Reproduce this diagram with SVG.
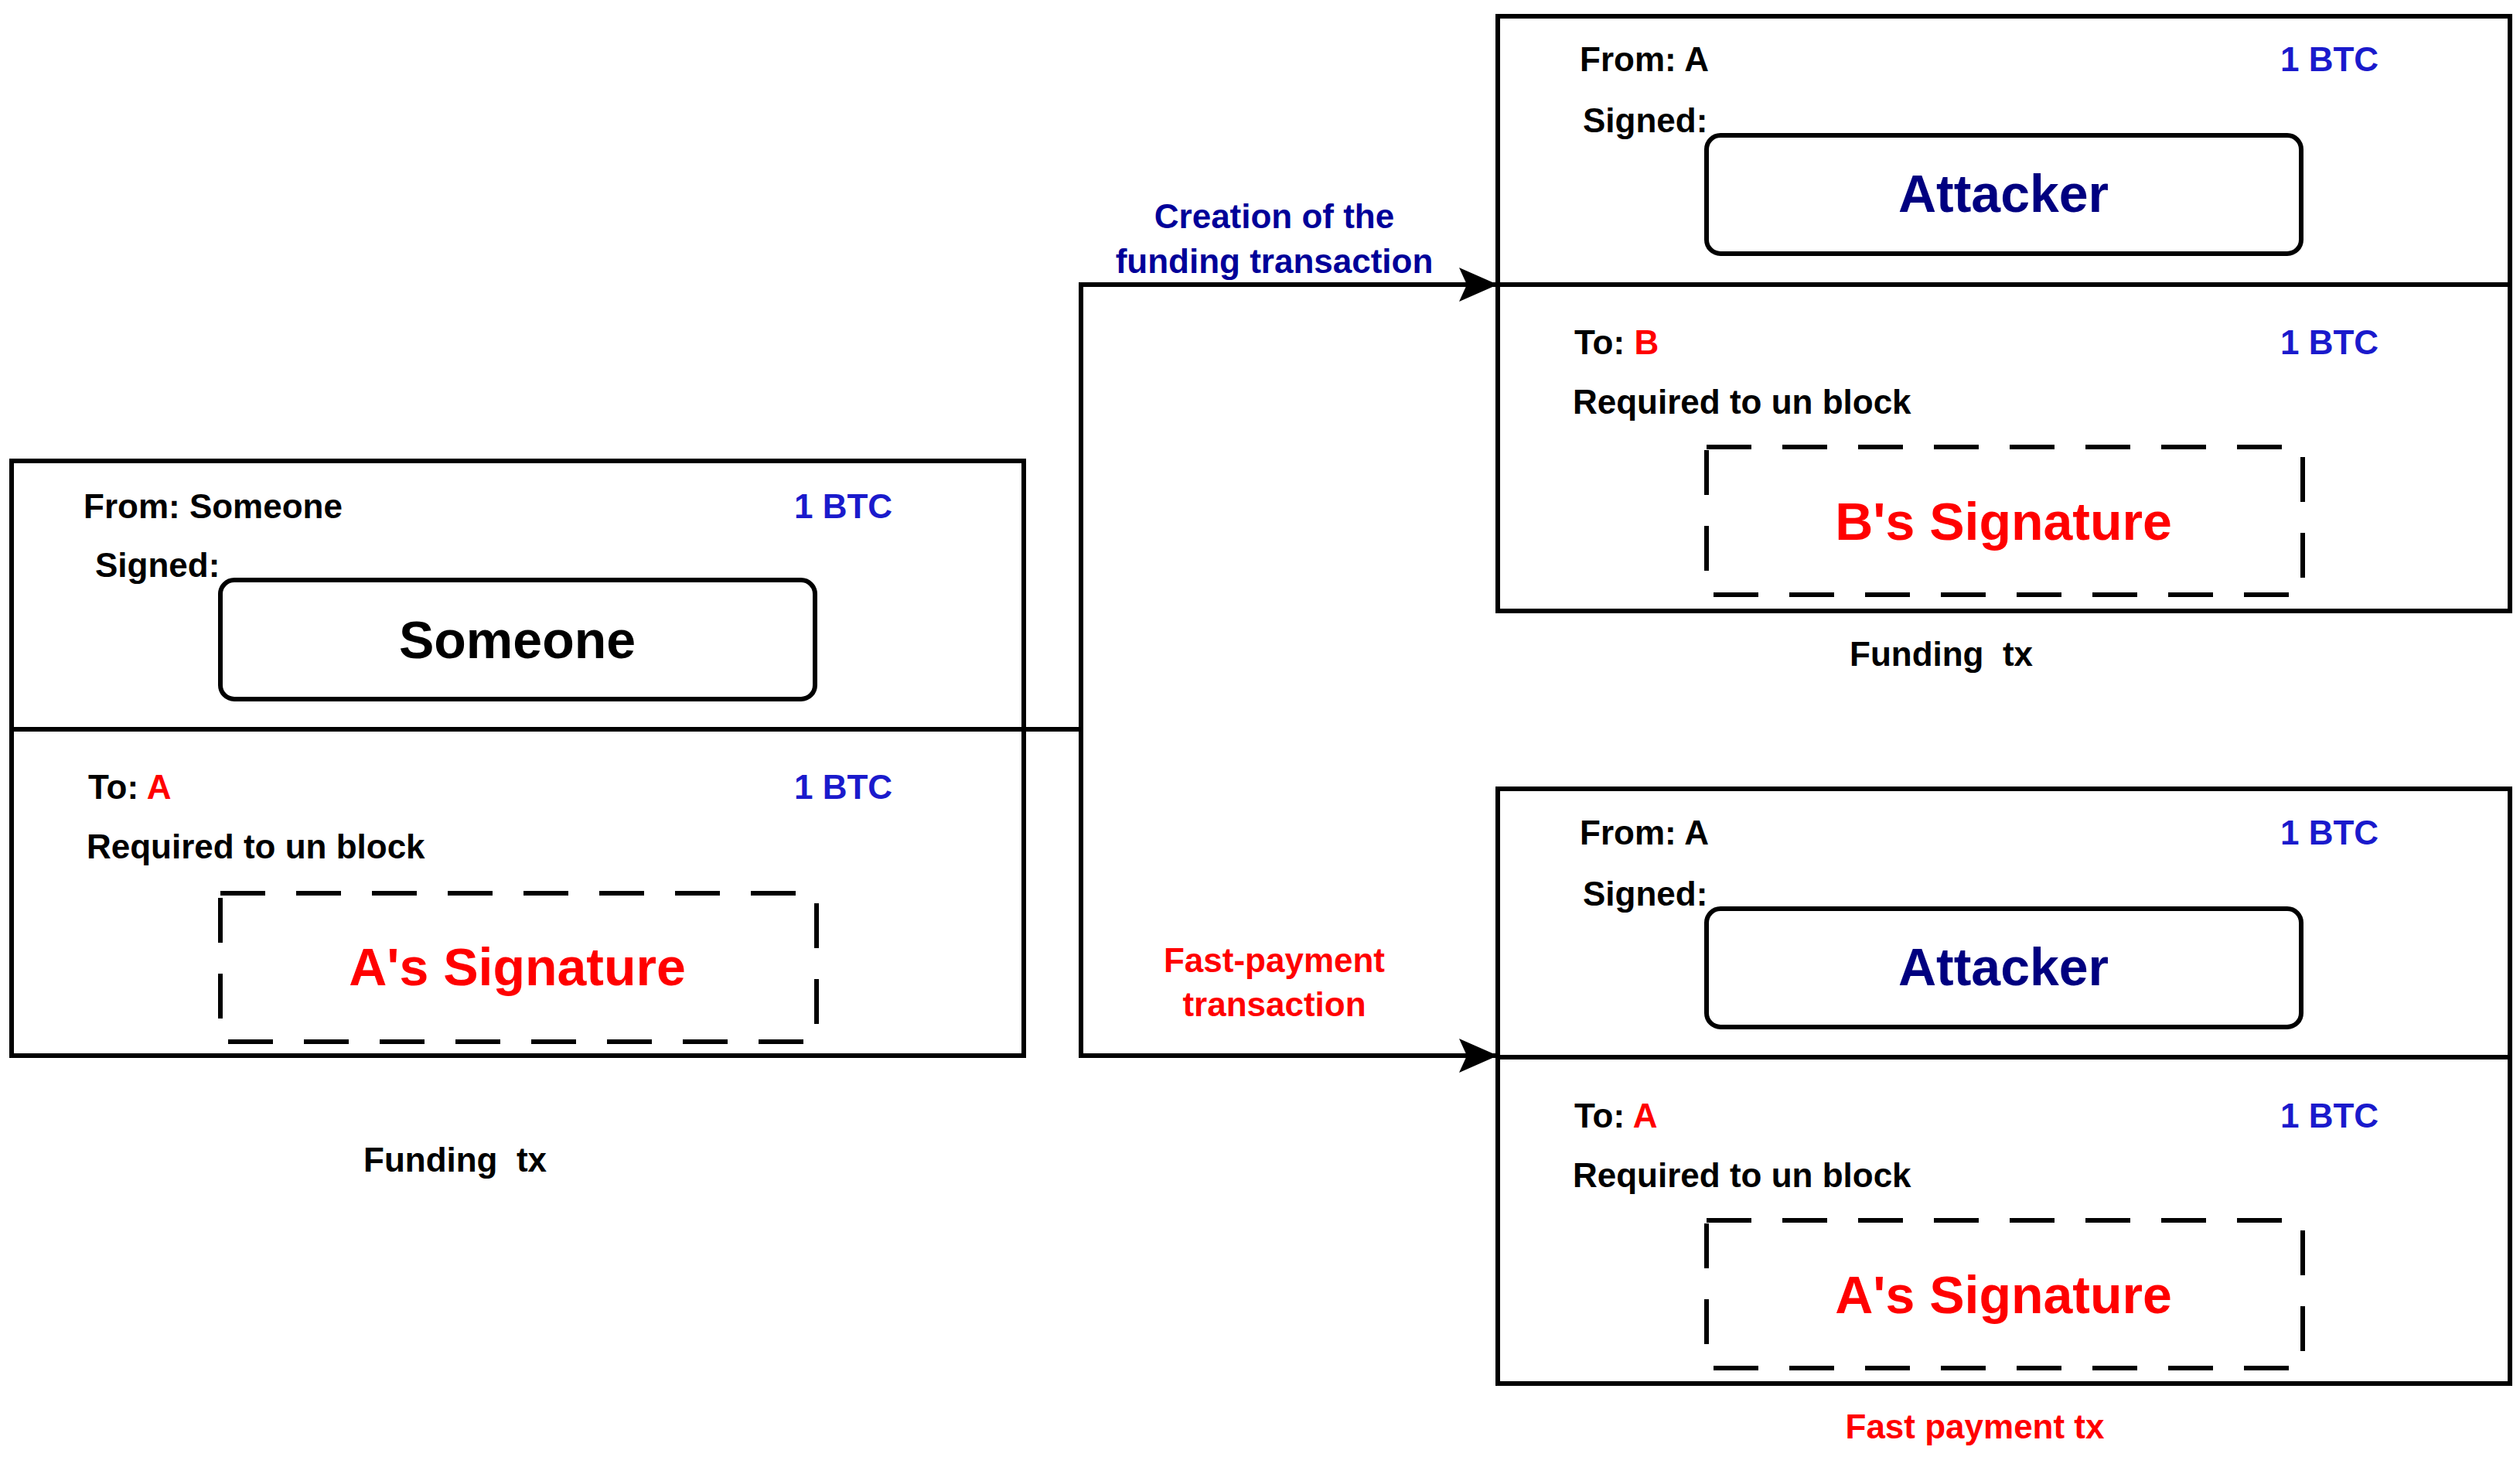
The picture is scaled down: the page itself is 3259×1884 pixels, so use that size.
<svg xmlns="http://www.w3.org/2000/svg" width="3259" height="1884" viewBox="0 0 3259 1884">
<style>
text{font-family:"Liberation Sans",Arial,sans-serif;font-weight:bold}
.s{font-size:44px;fill:#000}
.b{font-size:44px;fill:#1a1acc}
.r{fill:#ff0000}
.big{font-size:68px;text-anchor:middle}
.box{fill:#fff;stroke:#000;stroke-width:6}
.dash{fill:none;stroke:#000;stroke-width:6;stroke-dasharray:58 40}
.c{fill:none;stroke:#000;stroke-width:6}
</style>
<rect width="3259" height="1884" fill="#fff"/>
<g id="connectors">
<path class="c" d="M1324,943 H1398"/>
<path class="c" d="M1398,943 V368 H1934"/>
<path class="c" d="M1398,943 V1365 H1934"/>
<path d="M1937,368 L1887,346 L1897,368 L1887,390 Z" fill="#000"/>
<path d="M1937,1365 L1887,1343 L1897,1365 L1887,1387 Z" fill="#000"/>
<text x="1648" y="295" font-size="44" fill="#000099" text-anchor="middle">Creation of the</text>
<text x="1648" y="353" font-size="44" fill="#000099" text-anchor="middle">funding transaction</text>
<text x="1648" y="1257" font-size="44" fill="#ff0000" text-anchor="middle">Fast-payment</text>
<text x="1648" y="1314" font-size="44" fill="#ff0000" text-anchor="middle">transaction</text>
</g>
<g id="left">
<rect class="box" x="15" y="596" width="1309" height="769"/>
<line class="c" x1="15" y1="943" x2="1324" y2="943"/>
<text class="s" x="108" y="670">From: Someone</text>
<text class="b" x="1027" y="670">1 BTC</text>
<text class="s" x="123" y="746">Signed:</text>
<rect class="box" x="285" y="750" width="769" height="154" rx="18"/>
<text class="big" x="669" y="851" fill="#000">Someone</text>
<text class="s" x="114" y="1033">To: <tspan class="r">A</tspan></text>
<text class="b" x="1027" y="1033">1 BTC</text>
<text class="s" x="112" y="1110">Required to un block</text>
<rect class="dash" x="285" y="1155" width="771" height="192"/>
<text class="big" x="669" y="1274" fill="#ff0000">A's Signature</text>
<text class="s" x="470" y="1515">Funding&#160; tx</text>
</g>
<g id="topright">
<rect class="box" x="1937" y="21" width="1309" height="769"/>
<line class="c" x1="1937" y1="368" x2="3246" y2="368"/>
<text class="s" x="2043" y="92">From: A</text>
<text class="b" x="2949" y="92">1 BTC</text>
<text class="s" x="2047" y="171">Signed:</text>
<rect class="box" x="2207" y="175" width="769" height="153" rx="18"/>
<text class="big" x="2591" y="274" fill="#000080">Attacker</text>
<text class="s" x="2036" y="458">To: <tspan class="r">B</tspan></text>
<text class="b" x="2949" y="458">1 BTC</text>
<text class="s" x="2034" y="535">Required to un block</text>
<rect class="dash" x="2207" y="578" width="771" height="191"/>
<text class="big" x="2591" y="698" fill="#ff0000">B's Signature</text>
<text class="s" x="2392" y="861">Funding&#160; tx</text>
</g>
<g id="bottomright">
<rect class="box" x="1937" y="1020" width="1309" height="769"/>
<line class="c" x1="1937" y1="1367" x2="3246" y2="1367"/>
<text class="s" x="2043" y="1092">From: A</text>
<text class="b" x="2949" y="1092">1 BTC</text>
<text class="s" x="2047" y="1171">Signed:</text>
<rect class="box" x="2207" y="1175" width="769" height="153" rx="18"/>
<text class="big" x="2591" y="1274" fill="#000080">Attacker</text>
<text class="s" x="2036" y="1458">To: <tspan class="r">A</tspan></text>
<text class="b" x="2949" y="1458">1 BTC</text>
<text class="s" x="2034" y="1535">Required to un block</text>
<rect class="dash" x="2207" y="1578" width="771" height="191"/>
<text class="big" x="2591" y="1698" fill="#ff0000">A's Signature</text>
<text x="2554" y="1860" font-size="44" fill="#ff0000" text-anchor="middle">Fast payment tx</text>
</g>
</svg>
